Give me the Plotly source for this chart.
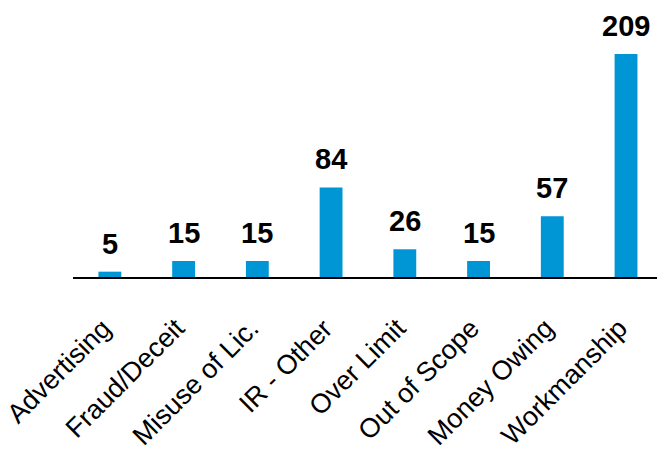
import plotly.graph_objects as go

categories = ["Advertising", "Fraud/Deceit", "Misuse of Lic.", "IR - Other",
              "Over Limit", "Out of Scope", "Money Owing", "Workmanship"]
values = [5, 15, 15, 84, 26, 15, 57, 209]

bar_color = "#0096D6"

fig = go.Figure()
fig.add_trace(go.Bar(x=categories, y=values, marker=dict(color=bar_color, line=dict(width=0)),
                     width=0.31))

for c, v in zip(categories, values):
    fig.add_annotation(x=c, y=v, text="<b>%d</b>" % v, showarrow=False,
                       yanchor="bottom", yshift=10,
                       font=dict(family="Liberation Sans, Arial", size=29, color="black"))
    fig.add_annotation(x=c, y=0, text=c, showarrow=False, textangle=-45,
                       xanchor="right", yanchor="top", xshift=10, yshift=-33,
                       font=dict(family="Liberation Sans, Arial", size=27, color="black"))

fig.update_layout(
    width=657, height=456,
    margin=dict(l=73, r=0, t=21, b=179),
    paper_bgcolor="white", plot_bgcolor="white",
    showlegend=False,
    xaxis=dict(range=[-0.5, 7.42], showline=True, linecolor="black", linewidth=2,
               showticklabels=False, ticks="", showgrid=False, automargin=False),
    yaxis=dict(range=[0, 240], visible=False, showgrid=False, zeroline=False,
               automargin=False),
)

fig.write_html("out.html")
